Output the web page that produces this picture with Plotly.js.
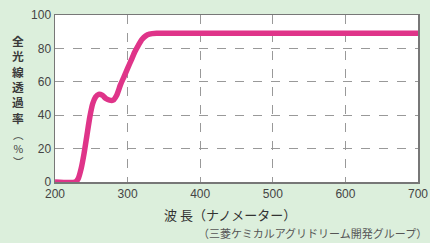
<!DOCTYPE html>
<html><head><meta charset="utf-8">
<script src="https://cdn.plot.ly/plotly-3.0.1.min.js"></script>
<style>html,body{margin:0;padding:0;background:#dcefdc;}#chart{width:430px;height:243px;}</style>
</head><body><div id="chart"></div>
<script>
const wavelength = [200, 228, 232, 236, 240, 244, 248, 252, 256, 260, 265, 270, 275, 280, 285, 290, 295, 300, 305, 310, 315, 320, 325, 330, 340, 400, 500, 600, 700];
const transmittance = [0, 0, 2, 8, 17, 28, 39, 47, 51, 52.5, 52, 50, 49, 49, 52, 58, 63, 68, 73, 78, 82, 85.5, 87.5, 88.5, 89, 89, 89, 89, 89];
const xTicks = [200, 300, 400, 500, 600, 700];
const yTicks = [0, 20, 40, 60, 80, 100];
const yTitleMain = "全<br>光<br>線<br>透<br>過<br>率";
const yTitleUnit = "︵<br>%<br>︶";
const xTitle = "波 長（ナノメーター）";
const source = "（三菱ケミカルアグリドリーム開発グループ）";

const jp = "Noto Sans CJK JP, sans-serif";
const px = v => (v - 55) / 363;
const py = v => (182 - v) / 167;
Plotly.newPlot("chart", [{
  x: wavelength, y: transmittance, type: "scatter", mode: "lines",
  line: {color: "#df3489", width: 5.5, shape: "spline", smoothing: 0.6},
  hoverinfo: "skip", cliponaxis: true
}], {
  width: 430, height: 243,
  margin: {l: 55, r: 12, t: 15, b: 61},
  paper_bgcolor: "#dcefdc", plot_bgcolor: "#ffffff",
  showlegend: false,
  font: {family: "Liberation Sans, Arial, sans-serif", size: 12, color: "#444"},
  xaxis: {range: [200, 700], tickvals: xTicks, ticks: "", showgrid: true,
    gridcolor: "#999", griddash: "dash", gridwidth: 1, zeroline: false,
    showline: true, mirror: true, linecolor: "#777", linewidth: 1.5,
    tickfont: {size: 12, color: "#444"}},
  yaxis: {range: [0, 100], tickvals: yTicks, ticks: "", showgrid: true,
    gridcolor: "#999", griddash: "dash", gridwidth: 1, zeroline: false,
    showline: true, mirror: true, linecolor: "#777", linewidth: 1.5,
    tickfont: {size: 12, color: "#444"}},
  annotations: [
    {text: yTitleMain, xref: "paper", yref: "paper", x: px(18), y: py(79),
     xanchor: "center", yanchor: "middle", showarrow: false,
     font: {family: jp, size: 11.8, color: "#3a3a3a", weight: "bold"}},
    {text: yTitleUnit, xref: "paper", yref: "paper", x: px(18), y: py(148),
     xanchor: "center", yanchor: "middle", showarrow: false,
     font: {family: jp, size: 10.5, color: "#3a3a3a"}},
    {text: xTitle, xref: "paper", yref: "paper", x: px(230), y: py(214),
     xanchor: "center", yanchor: "middle", showarrow: false,
     font: {family: jp, size: 13, color: "#333"}},
    {text: source, xref: "paper", yref: "paper", x: px(429), y: py(233),
     xanchor: "right", yanchor: "middle", showarrow: false,
     font: {family: jp, size: 11, color: "#555"}}
  ]
}, {displayModeBar: false, staticPlot: true});
</script></body></html>
